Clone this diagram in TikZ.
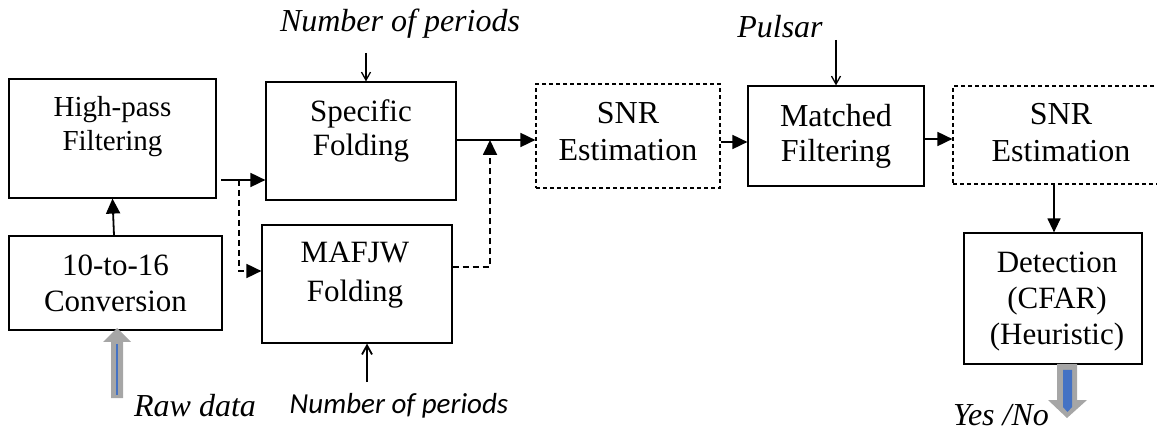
\documentclass[tikz,border=0pt]{standalone}
\usepackage{fontspec}
\setmainfont{Liberation Serif}
\newfontfamily\calib{Carlito}
\usetikzlibrary{arrows.meta,calc}
\definecolor{arrgray}{RGB}{166,166,166}
\definecolor{arrblue}{RGB}{68,114,196}
\tikzset{
  box/.style={draw, line width=1.2pt, inner sep=0pt},
  dbox/.style={box, dash pattern=on 4pt off 3pt},
  btxt/.style={align=center, font=\fontsize{31}{36}\selectfont, inner sep=0pt},
  itxt/.style={font=\fontsize{32}{36}\selectfont\itshape, inner sep=0pt, anchor=base},
  arr/.style={line width=1.8pt, -{Triangle[length=15pt,width=14pt]}},
  darr/.style={arr, dash pattern=on 6pt off 4pt},
  thinarr/.style={line width=1.3pt, -{Straight Barb[length=8pt,width=9pt]}},
}
\begin{document}
\begin{tikzpicture}[x=1pt,y=-1pt]
\useasboundingbox (0,0) rectangle (1157,430);
\clip (0,0) rectangle (1157,430);
% boxes
\node[box, minimum width=207pt, minimum height=119pt] (hp) at (112.5,138.5) {};
\node[box, minimum width=213pt, minimum height=94pt] (conv) at (115.5,283) {};
\node[box, minimum width=190pt, minimum height=118pt] (spec) at (361,141) {};
\node[box, minimum width=190pt, minimum height=118pt] (maf) at (357,284) {};
\node[dbox, minimum width=184pt, minimum height=104pt] (snra) at (628,136) {};
\node[box, minimum width=176pt, minimum height=100pt] (mat) at (836,136) {};
\node[dbox, minimum width=216pt, minimum height=98pt] (snrb) at (1061,135) {};
\node[box, minimum width=178pt, minimum height=131pt] (det) at (1053,298.5) {};
% box texts
\node[btxt, font=\fontsize{29}{34}\selectfont] (hpT) at (112.5,127) {High-pass\\Filtering};
\node[btxt] (convT) at (115.5,283) {10-to-16\\Conversion};
\node[btxt, font=\fontsize{31}{34}\selectfont] (specT) at (361,131) {Specific\\Folding};
\node[btxt, font=\fontsize{31}{39}\selectfont] (mafT) at (355,275) {MAFJW\\Folding};
\node[btxt, font=\fontsize{32}{37}\selectfont] (snraT) at (628,132) {SNR\\Estimation};
\node[btxt, font=\fontsize{32}{35}\selectfont] (matT) at (836,136) {Matched\\Filtering};
\node[btxt, font=\fontsize{32}{37}\selectfont] (snrbT) at (1061,132.5) {SNR\\Estimation};
\node[btxt] (detT) at (1057,302) {Detection\\(CFAR)\\(Heuristic)};
% labels
\node[itxt] (nopTop) at (400,32) {Number of periods};
\node[itxt] (pulsar) at (780,38) {Pulsar};
\node[itxt] (raw) at (195,416) {Raw data};
\node[itxt, font=\fontsize{29}{34}\selectfont\calib\itshape] (nopBot) at (399,413) {Number of periods};
\node[itxt] (yesno) at (1001,425) {Yes /No};
% coordinates
\coordinate (hpout) at (221,180);
\coordinate (split) at (239,180);
\coordinate (mafturn) at (239,271);
\coordinate (mafout) at (490,267);
\coordinate (join) at (490,140);
\coordinate (topA) at (366,53);
\coordinate (pulA) at (836,40);
\coordinate (botA) at (367,382);
% connectors
\draw[arr] ($(conv.north)+(-1.5,0)$) -- (hp.south);
\draw[arr] (hpout) -- (spec.west |- hpout);
\draw[darr] (split) -- (mafturn) -- (maf.west |- mafturn);
\draw[arr] (spec.east |- join) -- (snra.west |- join);
\draw[darr] (maf.east |- mafout) -- (mafout) -- (join);
\draw[arr] (snra.east |- 0,142) -- (mat.west |- 0,142);
\draw[arr] (mat.east |- 0,139) -- (snrb.west |- 0,139);
\draw[line width=1.3pt, -{Triangle[length=14pt,width=13pt]}] (snrb.south -| 1054,0) -- (det.north -| 1054,0);
\draw[thinarr] (topA) -- (topA |- spec.north);
\draw[thinarr] (pulA) -- (pulA |- mat.north);
\draw[line width=1.8pt, -{Straight Barb[length=9pt,width=10pt]}] (botA) -- (botA |- maf.south);
% big gray arrows
\fill[arrgray] (111,398) -- (123,398) -- (123,342) -- (131,342) -- (117,328) -- (103,342) -- (111,342) -- cycle;
\draw[arrblue, line width=1.5pt] (117,344) -- (117,395);
\fill[arrgray] (1057,364) -- (1077,364) -- (1077,400) -- (1087,400) -- (1067,418) -- (1048,400) -- (1057,400) -- cycle;
\fill[arrblue] (1063,370) -- (1072,370) -- (1072,407) -- (1067.5,412) -- (1063,407) -- cycle;
\end{tikzpicture}
\end{document}
